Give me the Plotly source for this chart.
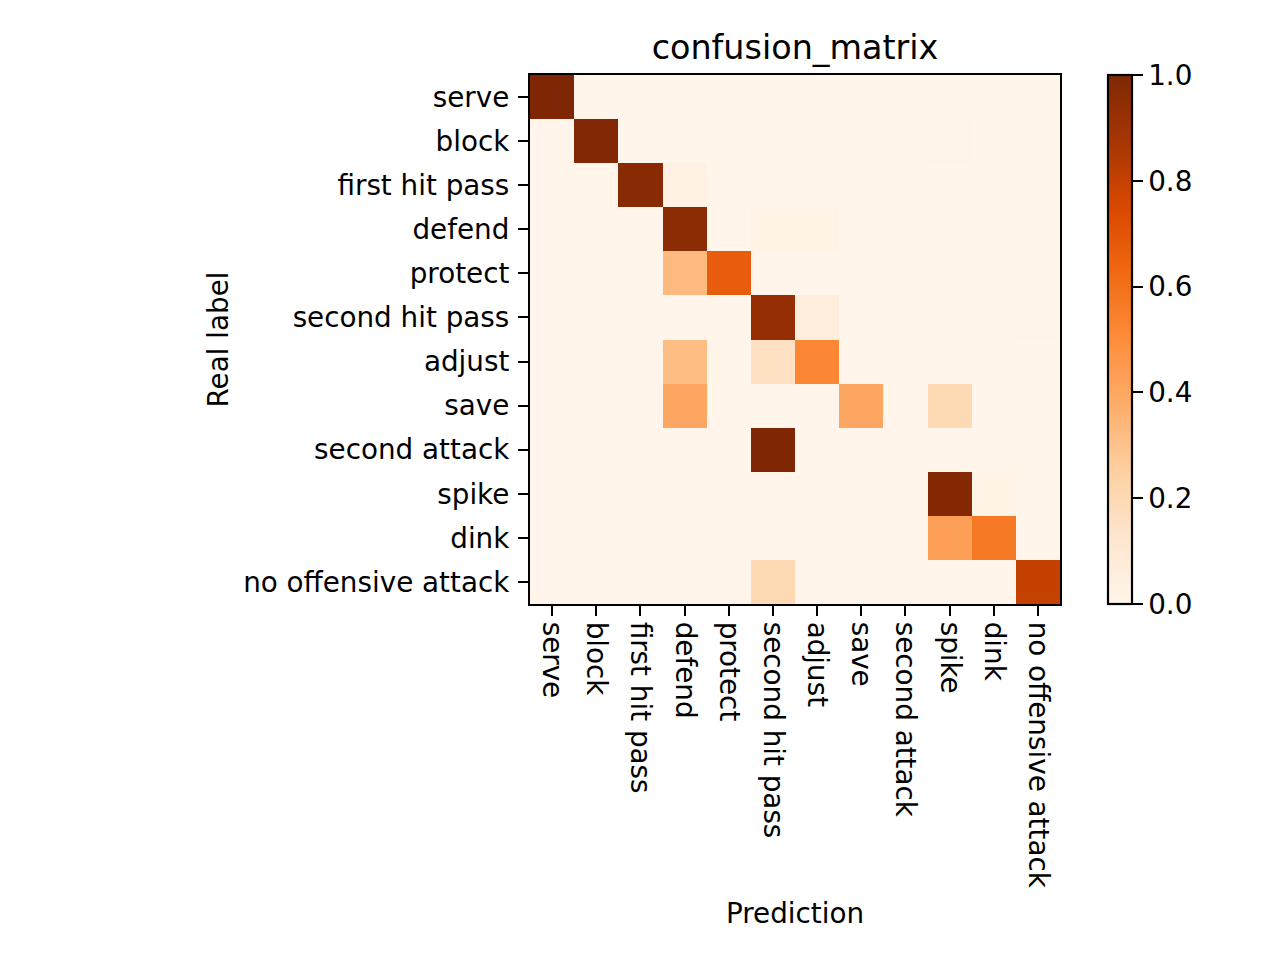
import plotly.graph_objects as go

labels = ["serve", "block", "first hit pass", "defend", "protect", "second hit pass",
          "adjust", "save", "second attack", "spike", "dink", "no offensive attack"]

row_serve = [1.00, 0, 0, 0, 0, 0, 0, 0, 0, 0, 0, 0]
row_block = [0, 0.99, 0, 0, 0, 0, 0, 0, 0, 0.01, 0, 0]
row_first_hit_pass = [0, 0, 0.97, 0.03, 0, 0, 0, 0, 0, 0, 0, 0]
row_defend = [0, 0, 0, 0.96, 0, 0.02, 0.02, 0, 0, 0, 0, 0]
row_protect = [0, 0, 0, 0.33, 0.67, 0, 0, 0, 0, 0, 0, 0]
row_second_hit_pass = [0, 0, 0, 0, 0, 0.93, 0.06, 0, 0, 0, 0, 0.01]
row_adjust = [0, 0, 0, 0.32, 0, 0.16, 0.52, 0, 0, 0, 0, 0]
row_save = [0, 0, 0, 0.40, 0, 0, 0, 0.40, 0, 0.20, 0, 0]
row_second_attack = [0, 0, 0, 0, 0, 1.00, 0, 0, 0, 0, 0, 0]
row_spike = [0, 0, 0, 0, 0, 0, 0, 0, 0, 0.98, 0.02, 0]
row_dink = [0, 0, 0, 0, 0, 0, 0, 0, 0, 0.43, 0.57, 0]
row_no_offensive_attack = [0, 0, 0, 0, 0, 0.20, 0, 0, 0, 0, 0, 0.80]

z = [row_serve, row_block, row_first_hit_pass, row_defend, row_protect,
     row_second_hit_pass, row_adjust, row_save, row_second_attack, row_spike,
     row_dink, row_no_offensive_attack]

colorbar_ticks = [0.0, 0.2, 0.4, 0.6, 0.8, 1.0]

oranges = [
    [0.0, "#fff5eb"], [0.125, "#fee6ce"], [0.25, "#fdd0a2"], [0.375, "#fdae6b"],
    [0.5, "#fd8d3c"], [0.625, "#f16913"], [0.75, "#d94801"], [0.875, "#a63603"],
    [1.0, "#7f2704"],
]

FONT = "DejaVu Sans"
FS = 27.8
OFF = 8  # page body margin
W, H = 1280 - OFF, 960 - OFF
# target screen positions of the plot area
L, R, T, B = 530, 1060, 75, 604

fig = go.Figure(go.Heatmap(
    z=z, x=labels, y=labels, zmin=0, zmax=1, colorscale=oranges,
    colorbar=dict(
        x=(1108 - L) / (R - L), xanchor="left", xref="paper", xpad=0, ypad=0,
        y=0.5, yanchor="middle", len=1, lenmode="fraction",
        thickness=24, outlinewidth=2.2, outlinecolor="black",
        tickvals=colorbar_ticks, tickformat=".1f", ticks="outside",
        ticklen=10, tickwidth=2.2, tickcolor="black", tickprefix="\u00a0",
        tickfont=dict(family=FONT, size=FS, color="black"),
    ),
))

axis_common = dict(
    showline=True, linecolor="black", linewidth=2.2, mirror=True,
    ticks="outside", ticklen=10, tickwidth=2.2, tickcolor="black",
    tickfont=dict(family=FONT, size=FS, color="black"),
    showgrid=False, zeroline=False,
)

fig.update_layout(
    width=W, height=H,
    margin=dict(l=L - OFF, r=1280 - R, t=T - OFF, b=960 - B, pad=0),
    paper_bgcolor="white", plot_bgcolor="white",
    font=dict(family=FONT, size=FS, color="black"),
    title=dict(text="confusion_matrix", x=0.5, xref="paper", xanchor="center",
               y=1 - (47 - OFF) / H, yref="container", yanchor="middle",
               font=dict(family=FONT, size=33.4, color="black")),
    xaxis=dict(**axis_common, tickangle=90, constrain="domain"),
    yaxis=dict(**axis_common, autorange="reversed", ticklabelstandoff=3),
    annotations=[
        dict(text="Prediction", x=0.5, xref="paper", y=(B - 913) / (B - T), yref="paper",
             xanchor="center", yanchor="middle", showarrow=False,
             font=dict(family=FONT, size=FS, color="black")),
        dict(text="Real label", x=(218 - L) / (R - L), xref="paper", y=0.5, yref="paper",
             xanchor="center", yanchor="middle", showarrow=False, textangle=-90,
             font=dict(family=FONT, size=FS, color="black")),
    ],
)

fig.write_html("out.html")
